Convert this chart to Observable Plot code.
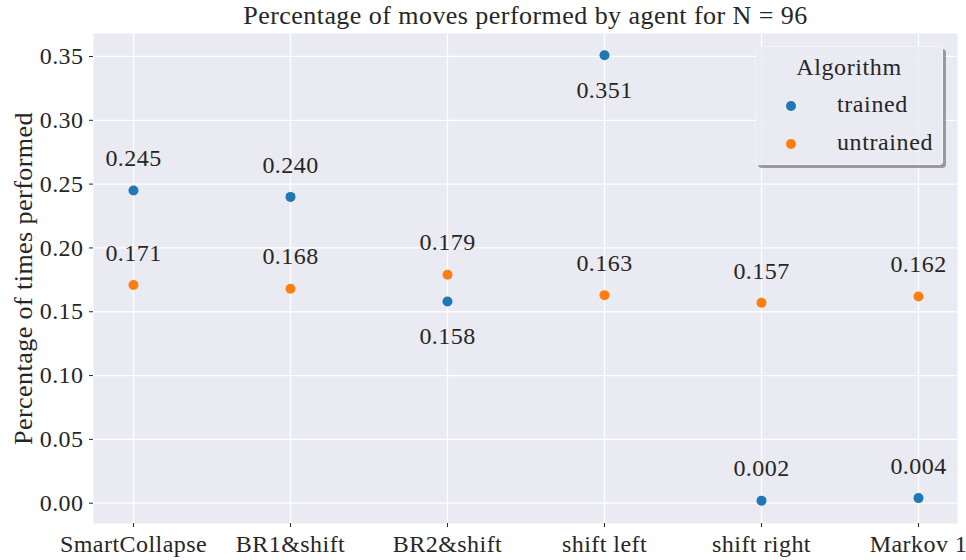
<!DOCTYPE html>
<html>
<head>
<meta charset="utf-8">
<script src="https://cdn.jsdelivr.net/npm/d3@7"></script>
<script src="https://cdn.jsdelivr.net/npm/@observablehq/plot@0.6"></script>
<style>
  html, body { margin: 0; padding: 0; background: #ffffff; }
  #wrap { position: relative; width: 966px; height: 560px; font-family: "Liberation Serif", "DejaVu Serif", serif; color: #262626; }
  #wrap svg text { letter-spacing: 0.45px; }
  #wrap svg text.ttl { letter-spacing: 1.4px; word-spacing: 3px; }
  #wrap svg text.ylab { letter-spacing: 0.6px; word-spacing: 1px; }
  #legend {
    position: absolute; left: 755px; top: 46px; width: 188px; height: 119px;
    background: rgba(234,234,242,0.85); border: 1px solid #f4f4f8; border-radius: 4px;
    box-shadow: 3px 3px 0 rgba(120,120,120,0.7); box-sizing: border-box;
    font-size: 24px; letter-spacing: 0.6px;
  }
  #legend .title { position: absolute; left: 0; width: 100%; top: 7px; text-align: center; }
  #legend .row { position: absolute; left: 0; width: 100%; height: 26px; }
  #legend .dot { position: absolute; left: 30px; top: 8px; width: 10px; height: 10px; border-radius: 50%; }
  #legend .lab { position: absolute; left: 81px; top: -2px; white-space: nowrap; }
</style>
</head>
<body>
<div id="wrap"></div>
<script>
const categories = ["SmartCollapse", "BR1&shift", "BR2&shift", "shift left", "shift right", "Markov 1"];
const seriesNames = ["trained", "untrained"];
const trained = [0.245, 0.240, 0.158, 0.351, 0.002, 0.004];
const untrained = [0.171, 0.168, 0.179, 0.163, 0.157, 0.162];
const trainedLabelBelow = [false, false, true, true, false, false];
const untrainedLabelBelow = [false, false, false, false, false, false];
const yTicks = [0.00, 0.05, 0.10, 0.15, 0.20, 0.25, 0.30, 0.35];
const colors = ["#1f77b4", "#ff7f0e"];
const titleText = "Percentage of moves performed by agent for N = 96";
const yLabel = "Percentage of times performed";

const rows = [];
categories.forEach((c, i) => {
  rows.push({cat: c, series: "trained", value: trained[i], below: trainedLabelBelow[i]});
  rows.push({cat: c, series: "untrained", value: untrained[i], below: untrainedLabelBelow[i]});
});

const FF = '"Liberation Serif", "DejaVu Serif", serif';

const plot = Plot.plot({
  width: 966,
  height: 560,
  marginLeft: 93,
  marginRight: 9,
  marginTop: 33,
  marginBottom: 37,
  style: {fontFamily: FF, fontSize: "24px", color: "#262626", background: "#ffffff"},
  x: {type: "point", domain: categories, padding: 0.248, label: null},
  y: {domain: [-0.0159, 0.368], label: null},
  color: {domain: seriesNames, range: colors},
  marks: [
    Plot.frame({fill: "#eaeaf2", stroke: null}),
    Plot.gridX({stroke: "#ffffff", strokeOpacity: 1, strokeWidth: 1.3}),
    Plot.gridY(yTicks, {stroke: "#ffffff", strokeOpacity: 1, strokeWidth: 1.3}),
    Plot.axisY(yTicks, {tickFormat: d3.format(".2f"), tickSize: 4, tickPadding: 6, stroke: "#262626", fill: "#262626", fontSize: 24, fontFamily: FF}),
    Plot.axisX({tickSize: 4, tickPadding: 7, stroke: "#262626", fill: "#262626", fontSize: 24, fontFamily: FF}),
    Plot.dot(rows, {x: "cat", y: "value", fill: "series", r: 5, stroke: null}),
    Plot.text(rows.filter(d => !d.below), {x: "cat", y: "value", text: d => d3.format(".3f")(d.value), dy: -32, fill: "#262626", fontSize: 24, fontFamily: FF}),
    Plot.text(rows.filter(d => d.below), {x: "cat", y: "value", text: d => d3.format(".3f")(d.value), dy: 35, fill: "#262626", fontSize: 24, fontFamily: FF}),
    Plot.text([titleText], {frameAnchor: "top", text: d => d, dy: -28, fill: "#262626", fontSize: 26, fontFamily: FF, className: "ttl"}),
    Plot.text([yLabel], {frameAnchor: "left", textAnchor: "middle", text: d => d, rotate: -90, dx: -70, fill: "#262626", fontSize: 26, fontFamily: FF, className: "ylab"})
  ]
});

const wrap = document.getElementById("wrap");
wrap.appendChild(plot);

const legend = document.createElement("div");
legend.id = "legend";
let html = `<div class="title">Algorithm</div>`;
seriesNames.forEach((s, i) => {
  html += `<div class="row" style="top:${46 + i * 38}px"><div class="dot" style="background:${colors[i]}"></div><div class="lab">${s}</div></div>`;
});
legend.innerHTML = html;
wrap.appendChild(legend);
</script>
</body>
</html>
